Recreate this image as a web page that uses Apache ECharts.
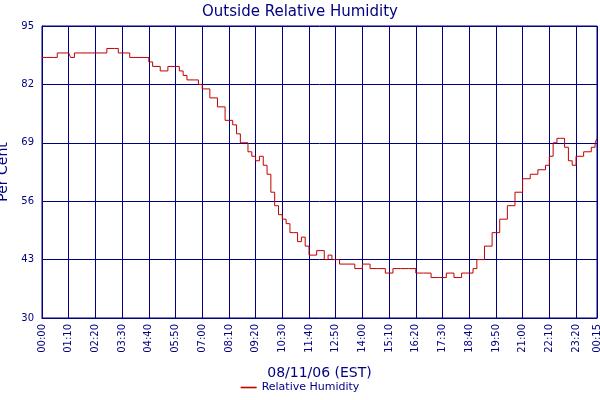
<!DOCTYPE html>
<html><head><meta charset="utf-8">
<script src="https://cdn.jsdelivr.net/npm/echarts@6/dist/echarts.min.js"></script>
<style>html,body{margin:0;padding:0;background:#fff}#c{width:600px;height:400px}</style>
</head><body><div id="c"></div>
<script>
const minutes = [0,30,40,70,75,85,100,130,160,170,190,200,220,230,270,280,290,310,330,350,360,370,380,400,410,420,430,440,460,480,500,510,520,540,550,560,570,580,590,600,610,620,630,640,650,660,670,680,690,700,720,740,750,760,780,800,820,840,860,880,900,920,940,960,980,1000,1020,1040,1060,1080,1100,1110,1130,1140,1160,1180,1200,1220,1240,1260,1280,1300,1320,1330,1340,1350,1360,1370,1380,1390,1400,1420,1440,1450,1455];
const humidity = [88,88,89,89,88,89,89,89,89,90,90,89,89,88,88,87,86,85,86,86,85,84,83,83,82,81,81,79,77,74,73,71,69,67,66,65,66,64,62,58,55,53,52,51,49,49,47,48,46,44,45,43,44,43,42,42,41,42,41,41,40,41,41,41,40,40,39,39,40,39,40,40,41,43,46,49,52,55,58,61,62,63,64,66,69,70,70,68,65,64,66,67,68,69,70];
const tickMinutes = [0,70,140,210,280,350,420,490,560,630,700,770,840,910,980,1050,1120,1190,1260,1330,1400,1455];
const yTicks = [30,43,56,69,82,95];
function fmt(m){m=m%1440;const h=Math.floor(m/60),mm=m%60;return String(h).padStart(2,'0')+':'+String(mm).padStart(2,'0');}
const navy='#000080';
const chart = echarts.init(document.getElementById('c'));
chart.setOption({
  animation:false,
  title:{text:'Outside Relative Humidity',left:'center',top:0,textStyle:{color:navy,fontSize:15,fontWeight:'normal',fontFamily:'DejaVu Sans'}},
  grid:{left:42,right:3,top:26,bottom:82,outerBoundsMode:'none',containLabel:false,show:true,borderColor:navy,borderWidth:1},
  legend:{bottom:2,left:'center',data:['Relative Humidity'],icon:'path://M0,5L20,5L20,7L0,7Z',itemWidth:16,itemHeight:6,textStyle:{color:navy,fontSize:11,fontFamily:'DejaVu Sans'}},
  xAxis:{type:'value',min:0,max:1455,interval:70,
    name:'08/11/06 (EST)',nameLocation:'middle',nameGap:48,nameTextStyle:{color:navy,fontSize:14,fontFamily:'DejaVu Sans'},
    axisLine:{lineStyle:{color:navy}},axisTick:{show:false},
    splitLine:{show:true,lineStyle:{color:navy,width:1}},
    axisLabel:{customValues:tickMinutes,rotate:90,color:navy,fontSize:10,fontFamily:'DejaVu Sans',margin:6,formatter:v=>fmt(v)}},
  yAxis:{type:'value',min:30,max:95,interval:13,
    name:'Per Cent',nameLocation:'middle',nameGap:30,nameTextStyle:{color:navy,fontSize:14,fontFamily:'DejaVu Sans'},
    axisLine:{show:true,lineStyle:{color:navy}},axisTick:{show:false},
    splitLine:{show:true,lineStyle:{color:navy,width:1}},
    axisLabel:{color:navy,fontSize:10,fontFamily:'DejaVu Sans',margin:8}},
  series:[{name:'Relative Humidity',type:'line',step:'end',showSymbol:false,
    data:minutes.map((m,i)=>[m,humidity[i]]),lineStyle:{color:'#c00000',width:1},itemStyle:{color:'#c00000'}}]
});
</script></body></html>
